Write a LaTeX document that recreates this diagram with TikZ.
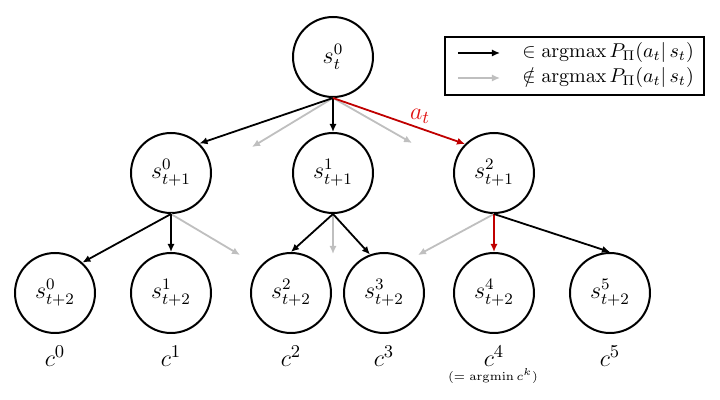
\documentclass[tikz,border=0pt]{standalone}
\usetikzlibrary{arrows.meta}
\definecolor{darkred}{HTML}{C00000}
\definecolor{lblred}{HTML}{E01010}
\definecolor{lgray}{HTML}{BFBFBF}
\begin{document}
\begin{tikzpicture}[x=0.5pt,y=-0.5pt,
  st/.style={circle,draw,line width=1pt,minimum size=40pt,inner sep=0pt,font=\fontsize{12}{14}\selectfont},
  cost/.style={font=\fontsize{13}{15}\selectfont,inner sep=0pt},
  blk/.style={-{Latex[length=4pt,width=3.6pt]},line width=0.9pt,black},
  gry/.style={-{Latex[length=4pt,width=3.6pt]},line width=0.9pt,lgray},
  redarr/.style={-{Latex[length=4pt,width=3.6pt]},line width=0.9pt,darkred},
  legtxt/.style={anchor=west,inner sep=0pt,font=\fontsize{10}{12}\selectfont}]
\useasboundingbox (0,0) rectangle (720,400);
% nodes
\node[st] (r)  at (333,57)  {$s_t^0$};
\node[st] (a0) at (171,173) {$s_{t+1}^0$};
\node[st] (a1) at (333,173) {$s_{t+1}^1$};
\node[st] (a2) at (494,173) {$s_{t+1}^2$};
\node[st] (b0) at (55,293)  {$s_{t+2}^0$};
\node[st] (b1) at (171,293) {$s_{t+2}^1$};
\node[st] (b2) at (291,293) {$s_{t+2}^2$};
\node[st] (b3) at (384,293) {$s_{t+2}^3$};
\node[st] (b4) at (494,293) {$s_{t+2}^4$};
\node[st] (b5) at (610,293) {$s_{t+2}^5$};
% cost labels
\node[cost] (c0) at (55,356)  {$c^0$};
\node[cost] (c1) at (171,356) {$c^1$};
\node[cost] (c2) at (291,356) {$c^2$};
\node[cost] (c3) at (384,356) {$c^3$};
\node[cost] (c4) at (494,356) {$c^4$};
\node[cost] (c5) at (610,356) {$c^5$};
\node[inner sep=0pt,font=\fontsize{6.5}{7}\selectfont] (c4note) at (493,376) {$(=\mathrm{argmin}\,c^k)$};
% free ends of gray arrows
\coordinate (g1) at (252,147);
\coordinate (g2) at (412,143);
\coordinate (g3) at (240,255);
\coordinate (g4) at (333,254);
\coordinate (g5) at (418,255);
% level 1
\draw[gry] (r.south) -- (g1);
\draw[gry] (r.south) -- (g2);
\draw[blk] (r.south) -- (a0.46);
\draw[blk] (r.south) -- (a1.north);
\draw[redarr] (r.south) -- node[pos=0.66,anchor=south,inner sep=2pt,text=lblred,font=\fontsize{13}{15}\selectfont] (at) {$a_t$} (a2.135);
% level 2
\draw[gry] (a0.south) -- (g3);
\draw[blk] (a0.south) -- (b0.48);
\draw[blk] (a0.south) -- (b1.north);
\draw[gry] (a1.south) -- (g4);
\draw[blk] (a1.south) -- (b2.north);
\draw[blk] (a1.south) -- (b3.110);
\draw[gry] (a2.south) -- (g5);
\draw[redarr] (a2.south) -- (b4.north);
\draw[blk] (a2.south) -- (b5.north);
% legend
\node[draw,line width=0.8pt,minimum width=129.5pt,minimum height=29pt,inner sep=0pt] (leg) at (574.5,66) {};
\coordinate (l1s) at (458,53);
\coordinate (l1e) at (500,53);
\coordinate (l2s) at (458,78);
\coordinate (l2e) at (500,78);
\draw[blk] (l1s) -- (l1e);
\draw[gry] (l2s) -- (l2e);
\node[legtxt] (t1) at (522,53) {$\in \mathrm{argmax}\,P_{\Pi}(a_t|\,s_t)$};
\node[legtxt] (t2) at (522,78) {$\notin \mathrm{argmax}\,P_{\Pi}(a_t|\,s_t)$};
\end{tikzpicture}
\end{document}
